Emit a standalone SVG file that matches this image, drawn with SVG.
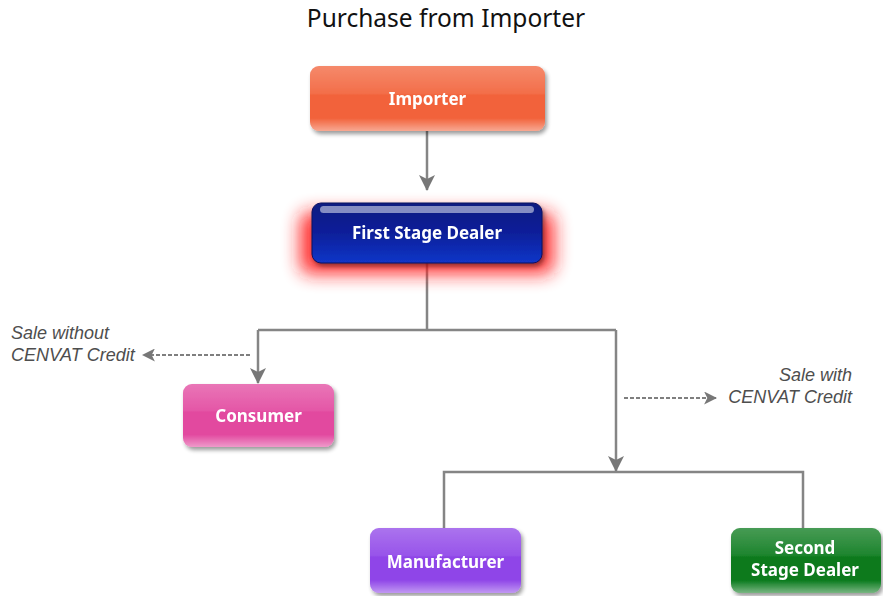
<svg xmlns="http://www.w3.org/2000/svg" width="883" height="596" viewBox="0 0 883 596">
  <defs>
    <style>
      .title { font-family: "Noto Sans", "DejaVu Sans", sans-serif; font-size: 24.5px; fill: #111; }
      .lbl { font-family: "Noto Sans", "DejaVu Sans", sans-serif; font-size: 17px; font-weight: bold; fill: #fff; text-anchor: middle; }
      .note { font-family: "Liberation Sans", Arial, sans-serif; font-size: 18px; font-style: italic; fill: #4e4e4e; }
      .wire { fill: none; stroke: #858585; stroke-width: 2.5; }
      .dash { fill: none; stroke: #555; stroke-width: 1.3; stroke-dasharray: 4 2; }
    </style>
    <linearGradient id="gloss" x1="0" y1="0" x2="0" y2="1">
      <stop offset="0" stop-color="#fff" stop-opacity="0.25"/>
      <stop offset="0.42" stop-color="#fff" stop-opacity="0.08"/>
      <stop offset="0.45" stop-color="#fff" stop-opacity="0"/>
      <stop offset="0.8" stop-color="#fff" stop-opacity="0"/>
      <stop offset="1" stop-color="#fff" stop-opacity="0.45"/>
    </linearGradient>
    <linearGradient id="blueShade" x1="0" y1="0" x2="0" y2="1">
      <stop offset="0" stop-color="#0a1a80"/>
      <stop offset="0.5" stop-color="#0a1f9a"/>
      <stop offset="1" stop-color="#1236c8"/>
    </linearGradient>
    <filter id="shadow" x="-10%" y="-10%" width="125%" height="140%">
      <feGaussianBlur in="SourceAlpha" stdDeviation="2"/>
      <feOffset dx="2" dy="3" result="b"/>
      <feComponentTransfer><feFuncA type="linear" slope="0.4"/></feComponentTransfer>
      <feMerge><feMergeNode/><feMergeNode in="SourceGraphic"/></feMerge>
    </filter>
    <filter id="redGlow" x="-40%" y="-80%" width="180%" height="260%">
      <feGaussianBlur stdDeviation="9"/>
    </filter>
    <marker id="arr" viewBox="0 0 12 12" refX="11" refY="6" markerWidth="13" markerHeight="13" markerUnits="userSpaceOnUse" orient="auto">
      <path d="M0,0 L12,6 L0,12 L3,6 Z" fill="#777"/>
    </marker>
    <marker id="arrBig" viewBox="0 0 16 16" refX="15" refY="8" markerWidth="16" markerHeight="16" markerUnits="userSpaceOnUse" orient="auto">
      <path d="M0,0 L16,8 L0,16 L4,8 Z" fill="#777"/>
    </marker>
  </defs>

  <rect width="883" height="596" fill="#fff"/>

  <text class="title" x="446" y="27" text-anchor="middle">Purchase from Importer</text>

  <!-- connectors -->
  <g id="connectors">
    <path class="wire" d="M427,131 V190" marker-end="url(#arrBig)"/>
    <path class="wire" d="M427,263 V330 M258,330 H616"/>
    <path class="wire" d="M258,330 V383" marker-end="url(#arrBig)"/>
    <path class="wire" d="M616,330 V471" marker-end="url(#arrBig)"/>
    <path class="wire" d="M444,528 V472 H803 V528"/>
    <path class="dash" d="M250,355 H143" marker-end="url(#arr)"/>
    <path class="dash" d="M624,398 H716" marker-end="url(#arr)"/>
    <text class="note" x="11" y="339">Sale without</text>
    <text class="note" x="11" y="361">CENVAT Credit</text>
    <text class="note" x="852" y="381" text-anchor="end">Sale with</text>
    <text class="note" x="852" y="403" text-anchor="end">CENVAT Credit</text>
  </g>

  <g id="importer" filter="url(#shadow)">
    <rect x="310" y="66" width="235" height="65" rx="9" fill="#f2623a"/>
    <rect x="310" y="66" width="235" height="65" rx="9" fill="url(#gloss)"/>
    <text class="lbl" x="427.5" y="105">Importer</text>
  </g>

  <g id="first-stage-dealer">
    <rect x="300" y="212" width="254" height="62" rx="10" fill="#ff1a1a" opacity="0.9" filter="url(#redGlow)"/>
    <g filter="url(#shadow)">
      <rect x="312" y="203" width="230" height="60" rx="9" fill="url(#blueShade)"/>
      <rect x="320" y="206" width="214" height="7" rx="3.5" fill="#fff" opacity="0.5"/>
      <rect x="312" y="203" width="230" height="60" rx="9" fill="none" stroke="#0a1060" stroke-width="1"/>
      <text class="lbl" x="427" y="239">First Stage Dealer</text>
    </g>
  </g>

  <g id="consumer" filter="url(#shadow)">
    <rect x="183" y="384" width="151" height="63" rx="9" fill="#e2489f"/>
    <rect x="183" y="384" width="151" height="63" rx="9" fill="url(#gloss)"/>
    <text class="lbl" x="258.5" y="422">Consumer</text>
  </g>

  <g id="manufacturer" filter="url(#shadow)">
    <rect x="370" y="528" width="151" height="65" rx="9" fill="#8f45e8"/>
    <rect x="370" y="528" width="151" height="65" rx="9" fill="url(#gloss)"/>
    <text class="lbl" x="445.5" y="568">Manufacturer</text>
  </g>

  <g id="second-stage-dealer" filter="url(#shadow)">
    <rect x="731" y="528" width="150" height="65" rx="9" fill="#0a7a1c"/>
    <rect x="731" y="528" width="150" height="65" rx="9" fill="url(#gloss)"/>
    <text class="lbl" x="805" y="554">Second</text>
    <text class="lbl" x="805" y="576">Stage Dealer</text>
  </g>
</svg>
